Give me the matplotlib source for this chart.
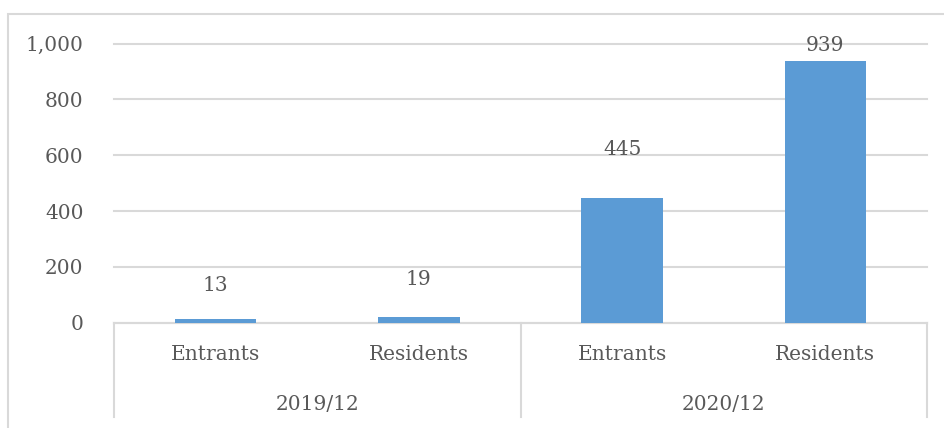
import matplotlib.pyplot as plt
from matplotlib.patches import Rectangle
from matplotlib.ticker import FuncFormatter

# Counts per month, split by entrants / residents
groups = ['2019/12', '2020/12']
sub_labels = ['Entrants', 'Residents', 'Entrants', 'Residents']
values = [13, 19, 445, 939]
label_offsets = [24, 27, 35, 11]  # points above bar top for the value labels

bar_color = '#5b9bd5'
text_color = '#595959'
line_color = '#d9d9d9'

plt.rcParams['font.family'] = ['DejaVu Serif']
plt.rcParams['font.size'] = 14.5

fig = plt.figure(figsize=(9.44, 4.28), dpi=100)
ax = fig.add_axes([114 / 944, 1 - 322.7 / 428, (927 - 114) / 944, 279.2 / 428])

# outer chart frame (right and bottom edges fall outside the image)
fig.patches.append(Rectangle((8 / 944, -0.2), 1.2, 1.2 - 14 / 428,
                             transform=fig.transFigure, fill=False,
                             edgecolor=line_color, linewidth=1.5, zorder=0))

x = list(range(len(values)))
ax.bar(x, values, width=0.4, color=bar_color, zorder=3)

for xi, v, off in zip(x, values, label_offsets):
    ax.annotate(f'{v:,}', (xi, v), xytext=(0, off), textcoords='offset points',
                ha='center', va='center', color=text_color, fontsize=14.5)

ax.set_xlim(-0.5, len(values) - 0.5)
ax.set_ylim(0, 1000)
ax.set_yticks(range(0, 1001, 200))
ax.yaxis.set_major_formatter(FuncFormatter(lambda v, p: f'{int(v):,}'))
ax.tick_params(axis='y', length=0, pad=22, colors=text_color)
ax.set_xticks([])
ax.grid(axis='y', color=line_color, linewidth=1.5, zorder=0)
for gl in ax.get_ygridlines():
    gl.set_clip_on(False)
for s in ['top', 'right', 'left']:
    ax.spines[s].set_visible(False)
ax.spines['bottom'].set_color(line_color)
ax.spines['bottom'].set_linewidth(1.5)

# two-level category axis
depth = -(417 - 322.7) / 279.2
for xs in [-0.5, 1.5, 3.5]:
    ax.plot([xs, xs], [0, depth], transform=ax.get_xaxis_transform(),
            color=line_color, linewidth=1.5, clip_on=False)

sub_y = -(355 - 322.7) / 279.2
grp_y = -(405 - 322.7) / 279.2
for xi, lab in zip(x, sub_labels):
    ax.text(xi, sub_y, lab, transform=ax.get_xaxis_transform(),
            ha='center', va='center', color=text_color)
for gi, g in enumerate(groups):
    ax.text(gi * 2 + 0.5, grp_y, g, transform=ax.get_xaxis_transform(),
            ha='center', va='center', color=text_color)

fig.savefig('out.png', dpi=100)
